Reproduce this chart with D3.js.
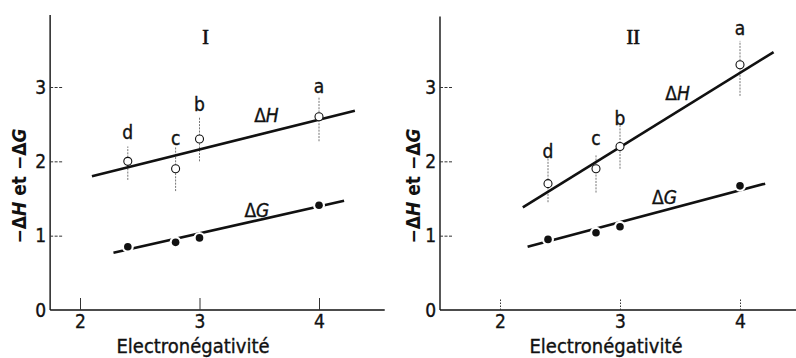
<!DOCTYPE html>
<html>
<head>
<meta charset="utf-8">
<script src="https://cdn.jsdelivr.net/npm/d3@7"></script>
<style>
  body { margin: 0; background: #fff; }
  svg { display: block; }
  text { font-family: "DejaVu Sans Condensed", "DejaVu Sans", sans-serif; fill: #111; stroke: #111; stroke-width: 0.35; }
</style>
</head>
<body>
<svg id="chart" width="796" height="358"></svg>
<script>
// electronegativity of the four ligands, and their letters
var elec = [2.4, 2.8, 3.0, 4.0];
var letters = ["d", "c", "b", "a"];
var xTicks = [2, 3, 4];
var yTicks = [0, 1, 2, 3];

// panel I
var dH1 = [2.0, 1.9, 2.3, 2.6];
var dH1lo = [1.75, 1.6, 2.0, 2.27];
var dH1hi = [2.2, 2.2, 2.6, 2.87];
var dG1 = [0.85, 0.91, 0.97, 1.41];
var fitH1 = [[2.1, 1.8], [4.3, 2.68]];
var fitG1 = [[2.28, 0.77], [4.21, 1.47]];
var letterY1 = [2.4, 2.31, 2.77, 3.01];

// panel II
var dH2 = [1.7, 1.9, 2.2, 3.3];
var dH2lo = [1.45, 1.58, 1.9, 2.88];
var dH2hi = [2.05, 2.08, 2.5, 3.62];
var dG2 = [0.95, 1.04, 1.12, 1.67];
var fitH2 = [[2.19, 1.38], [4.28, 3.47]];
var fitG2 = [[2.23, 0.85], [4.21, 1.70]];
var letterY2 = [2.14, 2.31, 2.58, 3.8];

var panels = [
  {name: "I", xr: [80, 319], xext: [1.75, 4.55], ytop: 3.97, labX: 19, xlab: 193,
   dH: dH1, lo: dH1lo, hi: dH1hi, dG: dG1, fitH: fitH1, fitG: fitG1, letY: letterY1,
   hPos: [3.56, 2.62], gPos: [3.48, 1.35], romPos: [3.05, 3.67], dotted: false},
  {name: "II", xr: [500, 740], xext: [1.5, 4.8], ytop: 3.95, labX: 413, xlab: 606,
   dH: dH2, lo: dH2lo, hi: dH2hi, dG: dG2, fitH: fitH2, fitG: fitG2, letY: letterY2,
   hPos: [3.48, 2.92], gPos: [3.37, 1.52], romPos: [3.11, 3.67], dotted: true}
];

var svg = d3.select("#chart");

panels.forEach(function(p) {
  var x = d3.scaleLinear().domain([2, 4]).range(p.xr);
  var y = d3.scaleLinear().domain([0, 3]).range([310, 87]);
  var g = svg.append("g");

  // axis lines
  g.append("line")
    .attr("x1", x(p.xext[0])).attr("x2", x(p.xext[0]))
    .attr("y1", y(0)).attr("y2", y(p.ytop))
    .attr("stroke", "#111").attr("stroke-width", 1.4);
  g.append("line")
    .attr("x1", x(p.xext[0])).attr("x2", x(p.xext[1]))
    .attr("y1", y(0)).attr("y2", y(0))
    .attr("stroke", "#111").attr("stroke-width", 1.4);

  // y axis, ticks pointing inwards
  var yAxis = d3.axisLeft(y).tickValues(yTicks).tickFormat(d3.format("d"))
    .tickSizeInner(-12).tickSizeOuter(0).tickPadding(4);
  var ya = g.append("g").attr("transform", "translate(" + x(p.xext[0]) + ",0)").call(yAxis);
  ya.select(".domain").remove();
  ya.selectAll(".tick line").attr("stroke", "#333").attr("stroke-dasharray", "3,1.5")
    .filter(function(d) { return d == 0; }).remove();
  ya.selectAll(".tick text").attr("font-size", 19).attr("font-family", null).attr("fill", "#111");

  // x axis, ticks pointing up
  var xAxis = d3.axisBottom(x).tickValues(xTicks).tickFormat(d3.format("d"))
    .tickSizeInner(-12).tickSizeOuter(0).tickPadding(5);
  var xa = g.append("g").attr("transform", "translate(0," + y(0) + ")").call(xAxis);
  xa.select(".domain").remove();
  xa.selectAll(".tick line").attr("stroke", "#333")
    .attr("stroke-dasharray", p.dotted ? "1.5,1.5" : null);
  xa.selectAll(".tick text").attr("font-size", 19).attr("font-family", null).attr("fill", "#111");

  // axis titles
  g.append("text").attr("x", p.xlab).attr("y", 353)
    .attr("text-anchor", "middle").attr("font-size", 20)
    .text("Electronégativité");
  var yl = g.append("text")
    .attr("transform", "translate(" + p.labX + ",186) rotate(-90)")
    .attr("text-anchor", "middle").attr("dominant-baseline", "central")
    .attr("font-size", 19).attr("font-weight", "bold").style("stroke-width", 0);
  yl.append("tspan").text("\u2212\u0394");
  yl.append("tspan").attr("font-style", "italic").text("H");
  yl.append("tspan").text(" et  \u2212\u0394");
  yl.append("tspan").attr("font-style", "italic").text("G");

  // roman numeral
  g.append("text").attr("x", x(p.romPos[0])).attr("y", y(p.romPos[1]))
    .attr("text-anchor", "middle").attr("dominant-baseline", "central")
    .style("font-family", "'Liberation Serif', 'DejaVu Serif', serif").attr("font-size", 20)
    .style("stroke-width", 0.7)
    .text(p.name);

  var line = d3.line().x(function(d) { return x(d[0]); }).y(function(d) { return y(d[1]); });

  // error bars
  g.selectAll(".err").data(elec).enter().append("line")
    .attr("x1", function(d) { return x(d); }).attr("x2", function(d) { return x(d); })
    .attr("y1", function(d, i) { return y(p.lo[i]); })
    .attr("y2", function(d, i) { return y(p.hi[i]); })
    .attr("stroke", "#666").attr("stroke-width", 0.9).attr("stroke-dasharray", "2,1.2");

  // fitted lines
  g.append("path").attr("d", line(p.fitH)).attr("fill", "none")
    .attr("stroke", "#111").attr("stroke-width", 2.6);
  g.append("path").attr("d", line(p.fitG)).attr("fill", "none")
    .attr("stroke", "#111").attr("stroke-width", 2.6);

  // dH open circles
  g.selectAll(".oh").data(elec).enter().append("circle")
    .attr("cx", function(d) { return x(d); })
    .attr("cy", function(d, i) { return y(p.dH[i]); })
    .attr("r", 4).attr("fill", "#fff").attr("stroke", "#111").attr("stroke-width", 1.1);

  // dG filled circles, a white halo first so the line breaks around them
  g.selectAll(".halo").data(elec).enter().append("circle")
    .attr("cx", function(d) { return x(d); })
    .attr("cy", function(d, i) { return y(p.dG[i]); })
    .attr("r", 6).attr("fill", "#fff");
  g.selectAll(".fg").data(elec).enter().append("circle")
    .attr("cx", function(d) { return x(d); })
    .attr("cy", function(d, i) { return y(p.dG[i]); })
    .attr("r", 3.8).attr("fill", "#111");

  // letters
  g.selectAll(".let").data(letters).enter().append("text")
    .attr("x", function(d, i) { return x(elec[i]); })
    .attr("y", function(d, i) { return y(p.letY[i]); })
    .attr("text-anchor", "middle").attr("dominant-baseline", "central")
    .attr("font-size", 19).text(function(d) { return d; });

  // series labels
  var th = g.append("text").attr("x", x(p.hPos[0])).attr("y", y(p.hPos[1]))
    .attr("text-anchor", "middle").attr("dominant-baseline", "central").attr("font-size", 19);
  th.append("tspan").text("\u0394");
  th.append("tspan").attr("font-style", "italic").text("H");
  var tg = g.append("text").attr("x", x(p.gPos[0])).attr("y", y(p.gPos[1]))
    .attr("text-anchor", "middle").attr("dominant-baseline", "central").attr("font-size", 19);
  tg.append("tspan").text("\u0394");
  tg.append("tspan").attr("font-style", "italic").text("G");
});
</script>
</body>
</html>
